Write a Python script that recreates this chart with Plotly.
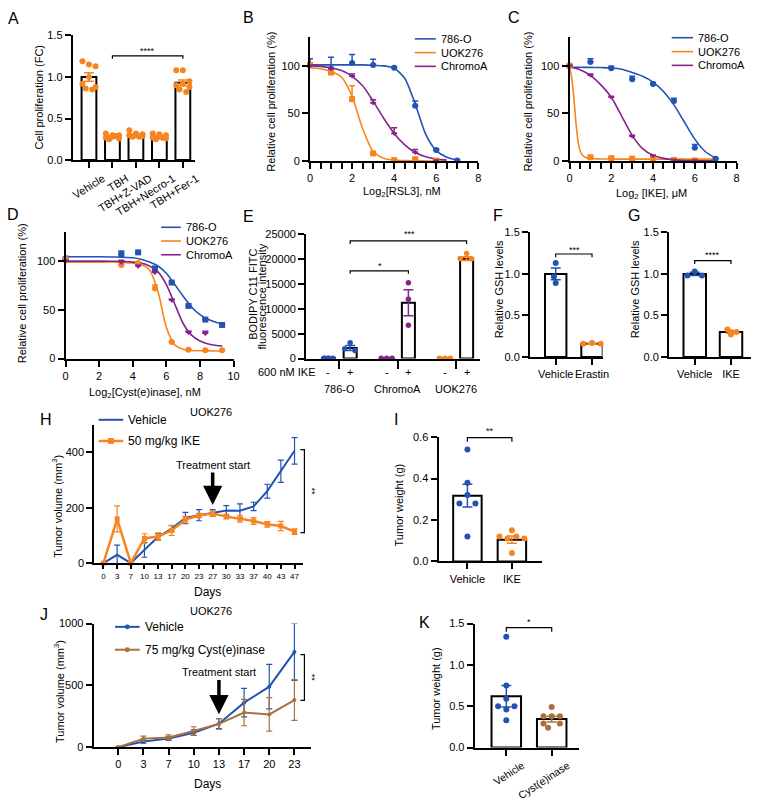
import plotly.graph_objects as go

FONT = "Arial, 'Liberation Sans', Helvetica, sans-serif"
BLUE = "#2253b3"
ORANGE = "#f7851f"
PURPLE = "#86228c"
BROWN = "#a8713b"

# ---------------- data ----------------
# A
A_CATS = ["Vehicle", "TBH", "TBH+Z-VAD", "TBH+Necro-1", "TBH+Fer-1"]
A_MEAN = [1.00, 0.28, 0.30, 0.28, 0.93]
A_SEM = [0.05, 0.012, 0.012, 0.012, 0.035]
A_PTS = [
    [1.19, 1.15, 1.13, 1.00, 0.92, 0.88, 0.86, 0.85],
    [0.32, 0.30, 0.30, 0.28, 0.27, 0.26, 0.25, 0.29],
    [0.36, 0.32, 0.31, 0.30, 0.30, 0.29, 0.28, 0.28],
    [0.32, 0.31, 0.30, 0.28, 0.27, 0.26, 0.25, 0.27],
    [1.08, 1.08, 0.95, 0.92, 0.90, 0.88, 0.85, 0.82],
]

# B  (Log2[RSL3], nM)
B_X = [0, 1, 2, 3, 4, 5, 6, 7]
B_786 = [101, 97, 103, 101, 98, 58, 11.5, 0.5]
B_786_ERR = [6.5, 12, 9, 6, 1, 5, 1.5, 0.3]
B_UOK = [101, 93, 65, 8, 1, 2, 0.5]
B_UOK_ERR = [1, 2, 14, 1, 0.5, 0.5, 0.3]
B_CHR = [100, 97, 89, 61, 29, 9, 0.5]
B_CHR_ERR = [1, 1, 2.5, 3.5, 6, 3, 0.3]
B_CX = [0, 0.5, 1, 1.5, 2, 2.5, 3, 3.5, 4, 4.5, 5, 5.5, 6, 6.5, 7]
B_786_FIT = [101, 101, 101, 101, 101, 101, 100.5, 100, 97.5, 87, 60, 28, 11, 4, 1]
B_UOK_FIT = [98, 97, 94, 88, 68, 34, 10, 3, 1, 0.4, 0.2, 0.1, 0]
B_CHR_FIT = [100, 99.5, 98, 95, 89, 79, 63, 45, 29, 17, 9, 4.5, 2, 1]

# C  (Log2 [IKE], uM)
C_X = [0, 1, 2, 3, 4, 5, 6, 7]
C_786 = [100.5, 104, 97.5, 86, 81, 63, 14, 2.5]
C_786_ERR = [1, 3.5, 2, 3, 1.5, 3, 3.5, 0.5]
C_UOK = [100, 4, 3, 2.5, 2.5, 1.2, 0.7]
C_UOK_ERR = [0.5, 0.5, 0.5, 0.5, 0.5, 0.3, 0.3]
C_CHR = [100, 90, 67, 26, 5.5, 1, 0.5]
C_CHR_ERR = [0.5, 1.5, 1, 1, 0.5, 0.3, 0.3]
C_CX = [0, 0.5, 1, 1.5, 2, 2.5, 3, 3.5, 4, 4.5, 5, 5.5, 6, 6.5, 7]
C_786_FIT = [98.5, 98.5, 98.4, 98.2, 97.8, 96.5, 93, 89, 83, 73, 59, 41, 23, 10, 3]
C_CHR_FIT = [99, 96, 90, 80, 67, 47, 27, 13, 6, 2.8, 1.2, 0.6, 0.4, 0.3, 0.3]
C_UOK_CX = [0, 0.1, 0.2, 0.3, 0.4, 0.5, 0.6, 0.8, 1, 1.5, 2, 3, 4, 5, 6, 7]
C_UOK_FIT = [99, 88, 68, 42, 22, 11, 6.5, 3.5, 2.6, 2.2, 2, 2, 2, 2, 2, 2]

# D  (Log2[Cyst(e)inase], nM)
D_X = [0, 3.32, 4.32, 5.32, 6.32, 7.32, 8.32, 9.32]
D_786 = [102, 107, 109, 92.5, 78, 54, 40, 34.5]
D_786_ERR = [2.5, 3.5, 0.5, 1.5, 0.5, 0.5, 0.5, 0.5]
D_UOK = [102, 96, 98, 72, 17, 9, 8.5, 8.5]
D_UOK_ERR = [3.5, 0.5, 0.5, 3.5, 0.5, 0.3, 0.3, 0.3]
D_CHR = [100, 99, 95, 88.5, 60, 27, 26]
D_CHR_ERR = [0.5, 2, 0.5, 1, 0.5, 1, 2]
D_CX = [0, 1, 2, 3, 4, 4.5, 5, 5.5, 6, 6.5, 7, 7.5, 8, 8.5, 9, 9.32]
D_786_FIT = [104.5, 104.5, 104.5, 104.3, 103.5, 102, 99, 95, 87.5, 76, 64, 53, 45, 40, 37, 35.5]
D_UOK_FIT = [99, 99, 99, 99, 98, 96.5, 91, 69, 32, 14, 9.5, 8.3, 8, 7.9, 7.8, 7.8]
D_CHR_FIT = [100, 100, 100, 99.8, 99, 98, 95, 89, 76, 56, 36, 24, 18, 15, 13.5, 13]

# E
E_GROUPS = ["786-O", "ChromoA", "UOK276"]
E_IKE = ["-", "+"]
E_MEAN = [100, 2100, 50, 11200, 50, 20050]
E_SEM = [20, 500, 20, 2600, 20, 400]
E_PTS = [[120, 100, 80], [3150, 1950, 1600], [60, 50, 40],
         [15200, 11900, 6700], [40, 50, 60], [20100, 21100, 20000]]

# F
F_CATS = ["Vehicle", "Erastin"]
F_MEAN = [1.00, 0.16]
F_SEM = [0.07, 0.006]
F_PTS = [[1.13, 0.97, 0.89], [0.16, 0.17, 0.16]]

# G
G_CATS = ["Vehicle", "IKE"]
G_MEAN = [1.00, 0.30]
G_SEM = [0.02, 0.015]
G_PTS = [[1.03, 0.98, 0.98], [0.33, 0.30, 0.30, 0.27]]

# H
H_DAYS = [0, 3, 7, 10, 13, 17, 20, 23, 27, 30, 33, 37, 40, 43, 47]
H_VEH = [0, 30, 0, 48, 95, 125, 163, 173, 181, 190, 189, 205, 260, 332, 406]
H_VEH_ERR = [0, 35, 0, 27, 12, 10, 20, 20, 12, 18, 25, 15, 25, 40, 48]
H_IKE = [0, 160, 0, 89, 96, 118, 157, 172, 179, 168, 160, 152, 140, 134, 114]
H_IKE_ERR = [0, 47, 0, 17, 13, 18, 12, 8, 10, 8, 12, 12, 10, 17, 10]
H_START_DAY = 27

# I
I_CATS = ["Vehicle", "IKE"]
I_MEAN = [0.317, 0.105]
I_SEM = [0.055, 0.018]
I_PTS = [[0.54, 0.38, 0.32, 0.28, 0.28, 0.12], [0.15, 0.12, 0.11, 0.12, 0.11, 0.04]]

# J
J_DAYS = [0, 3, 7, 10, 13, 17, 20, 23]
J_VEH = [0, 45, 69, 117, 190, 360, 489, 770]
J_VEH_ERR = [0, 12, 15, 22, 40, 115, 180, 230]
J_CYS = [0, 69, 79, 130, 188, 280, 265, 381]
J_CYS_ERR = [0, 20, 20, 35, 43, 107, 135, 165]
J_START_DAY = 13

# K
K_CATS = ["Vehicle", "Cyst(e)inase"]
K_MEAN = [0.62, 0.345]
K_SEM = [0.13, 0.035]
K_PTS = [[1.34, 0.75, 0.59, 0.50, 0.50, 0.46, 0.33], [0.49, 0.38, 0.38, 0.38, 0.29, 0.29, 0.24]]

# ---------------- layout helpers ----------------
W, H = 763, 801


def PX(x):
    return x / W


def PY(y):
    return 1 - y / H


fig = go.Figure()
shapes = []
annotations = []
layout = {}

AX = dict(showline=True, linecolor="black", linewidth=2, ticks="outside", ticklen=6,
          tickwidth=2, tickcolor="black", showgrid=False, zeroline=False,
          tickfont=dict(family=FONT, size=11, color="black"), fixedrange=True,
          layer="above traces")


def axes(n, x0, x1, ybot, ytop, xr, yr, xkw=None, ykw=None):
    s = "" if n == 1 else str(n)
    xa = dict(AX)
    xa.update(domain=[PX(x0), PX(x1)], range=xr, anchor="y" + s)
    ya = dict(AX)
    ya.update(domain=[PY(ybot), PY(ytop)], range=yr, anchor="x" + s)
    if xkw:
        xa.update(xkw)
    if ykw:
        ya.update(ykw)
    layout["xaxis" + s] = xa
    layout["yaxis" + s] = ya
    return "x" + s, "y" + s


def T(x, y, s, size=11, xanchor="center", angle=0, yanchor="middle"):
    annotations.append(dict(x=PX(x), y=PY(y), xref="paper", yref="paper", text=s,
                            showarrow=False, font=dict(family=FONT, size=size, color="black"),
                            xanchor=xanchor, yanchor=yanchor, textangle=angle))


def bar_group(xa, ya, xpos, mean, sem, color, width, pts, jit, msize=6):
    fig.add_trace(go.Bar(x=[xpos], y=[mean], width=width,
                         marker=dict(color="white", line=dict(color="black", width=2)),
                         error_y=dict(type="data", array=[sem], color=color, thickness=1.5, width=5),
                         xaxis=xa, yaxis=ya))
    fig.add_trace(go.Scatter(x=[xpos + j for j in jit[:len(pts)]], y=pts, mode="markers",
                             marker=dict(color=color, size=msize), cliponaxis=False,
                             xaxis=xa, yaxis=ya))


def curve(xa, ya, cx, cy, color):
    fig.add_trace(go.Scatter(x=cx[:len(cy)], y=cy, mode="lines",
                             line=dict(color=color, width=1.6, shape="spline", smoothing=0.7),
                             xaxis=xa, yaxis=ya))


def points(xa, ya, x, y, err, color, symbol, size=6):
    fig.add_trace(go.Scatter(x=x[:len(y)], y=y, mode="markers",
                             marker=dict(color=color, symbol=symbol, size=size),
                             error_y=dict(type="data", symmetric=False, array=err,
                                          arrayminus=[0] * len(err), color=color,
                                          thickness=1.5, width=3),
                             cliponaxis=False, xaxis=xa, yaxis=ya))


def bracket(xref, yref, x0, x1, y, drop):
    shapes.append(dict(type="path", xref=xref, yref=yref,
                       path=f"M {x0},{y - drop} L {x0},{y} L {x1},{y} L {x1},{y - drop}",
                       line=dict(color="black", width=1.2)))


def vbracket(yref, xpx, y0, y1):
    xa = PX(xpx)
    xb = PX(xpx - 4)
    shapes.append(dict(type="path", xref="paper", yref=yref,
                       path=f"M {xb},{y0} L {xa},{y0} L {xa},{y1} L {xb},{y1}",
                       line=dict(color="black", width=1.2)))


def legend_key(x0, x1, y, color, width=2, marker=None, text="", size=11):
    shapes.append(dict(type="line", xref="paper", yref="paper", x0=PX(x0), x1=PX(x1),
                       y0=PY(y), y1=PY(y), line=dict(color=color, width=width)))
    cx = (x0 + x1) / 2
    if marker == "square":
        shapes.append(dict(type="rect", xref="paper", yref="paper", x0=PX(cx - 3), x1=PX(cx + 3),
                           y0=PY(y + 3), y1=PY(y - 3), fillcolor=color, line=dict(width=0)))
    elif marker == "circle":
        shapes.append(dict(type="circle", xref="paper", yref="paper", x0=PX(cx - 2.5), x1=PX(cx + 2.5),
                           y0=PY(y + 2.5), y1=PY(y - 2.5), fillcolor=color, line=dict(width=0)))
    T(x1 + 3, y, text, size=size, xanchor="left")


def start_arrow(xa, ya, xidx, yval, text_dy):
    annotations.append(dict(x=xidx, y=yval, xref=xa, yref=ya, ax=0, ay=-text_dy,
                            text="Treatment start", showarrow=True, standoff=0,
                            font=dict(family=FONT, size=11, color="black"),
                            arrowhead=2, arrowsize=1.1, arrowwidth=3.5, arrowcolor="black"))


JIT8 = [-0.28, 0.0, 0.28, 0.0, -0.28, 0.28, -0.14, 0.14]
COLS_A = [ORANGE] * 5

# ---------------- Panel A ----------------
xa, ya = axes(1, 70.7, 194, 157, 30, [-0.686, 4.505], [0, 1.5],
              xkw=dict(tickvals=list(range(5)), ticktext=A_CATS, tickangle=-32,
                       ticklabelshift=14),
              ykw=dict(tickvals=[0, 0.5, 1.0, 1.5], tickformat=".1f"))
for i in range(5):
    bar_group(xa, ya, i, A_MEAN[i], A_SEM[i], COLS_A[i], 0.63, A_PTS[i], JIT8, msize=6)
bracket(xa, ya, 1, 4, 1.255, 0.035)
T(146, 45.5, "****", size=9)
T(3, 13, "A", size=16, xanchor="left")
T(36.7, 93, "Cell proliferation (FC)", angle=-90)

# ---------------- Panel B ----------------
MINOR = dict(dtick=0.5, ticks="outside", ticklen=6, tickwidth=1.5, tickcolor="black")
xa, ya = axes(2, 310.7, 481, 158, 31.9, [0, 8], [0, 130],
              xkw=dict(dtick=2, tick0=0, minor=MINOR),
              ykw=dict(tickvals=[0, 50, 100]))
curve(xa, ya, B_CX, B_786_FIT, BLUE)
curve(xa, ya, B_CX, B_UOK_FIT, ORANGE)
curve(xa, ya, B_CX, B_CHR_FIT, PURPLE)
points(xa, ya, B_X, B_786, B_786_ERR, BLUE, "circle")
points(xa, ya, B_X, B_UOK, B_UOK_ERR, ORANGE, "square")
points(xa, ya, B_X, B_CHR, B_CHR_ERR, PURPLE, "triangle-down", size=5)
T(241, 12, "B", size=16, xanchor="left")
T(271.7, 97, "Relative cell proliferation (%)", angle=-90)
T(404, 190, "Log<sub>2</sub>[RSL3], nM")
legend_key(416.7, 438, 33.5, BLUE, 1.6, text="786-O")
legend_key(416.7, 438, 47.5, ORANGE, 1.6, text="UOK276")
legend_key(416.7, 438, 61.5, PURPLE, 1.6, text="ChromoA")

# ---------------- Panel C ----------------
xa, ya = axes(3, 573.3, 742.3, 158, 31.9, [0, 8], [0, 130],
              xkw=dict(dtick=2, tick0=0, minor=MINOR),
              ykw=dict(tickvals=[0, 50, 100]))
curve(xa, ya, C_CX, C_786_FIT, BLUE)
curve(xa, ya, C_UOK_CX, C_UOK_FIT, ORANGE)
curve(xa, ya, C_CX, C_CHR_FIT, PURPLE)
points(xa, ya, C_X, C_786, C_786_ERR, BLUE, "circle")
points(xa, ya, C_X, C_UOK, C_UOK_ERR, ORANGE, "square")
points(xa, ya, C_X, C_CHR, C_CHR_ERR, PURPLE, "triangle-down", size=5)
T(509, 12, "C", size=16, xanchor="left")
T(531.7, 97, "Relative cell proliferation (%)", angle=-90)
T(656.7, 191.5, "Log<sub>2</sub> [IKE], μM")
legend_key(676.7, 698.3, 32.3, BLUE, 1.6, text="786-O")
legend_key(676.7, 698.3, 46.5, ORANGE, 1.6, text="UOK276")
legend_key(676.7, 698.3, 60.5, PURPLE, 1.6, text="ChromoA")

# ---------------- Panel D ----------------
xa, ya = axes(4, 63.3, 233.3, 359.3, 230.2, [0, 10], [0, 130],
              xkw=dict(dtick=2, tick0=0),
              ykw=dict(tickvals=[0, 50, 100]))
curve(xa, ya, D_CX, D_786_FIT, BLUE)
curve(xa, ya, D_CX, D_UOK_FIT, ORANGE)
curve(xa, ya, D_CX, D_CHR_FIT, PURPLE)
points(xa, ya, D_X, D_786, D_786_ERR, BLUE, "square")
points(xa, ya, D_X, D_UOK, D_UOK_ERR, ORANGE, "circle")
points(xa, ya, D_X, D_CHR, D_CHR_ERR, PURPLE, "triangle-down", size=6)
T(2, 212, "D", size=16, xanchor="left")
T(19, 293, "Relative cell proliferation (%)", angle=-90)
T(144, 394, "Log<sub>2</sub>[Cyst(e)inase], nM")
legend_key(160, 180, 225.5, BLUE, 1.6, text="786-O")
legend_key(160, 180, 239.5, ORANGE, 1.6, text="UOK276")
legend_key(160, 180, 253.5, PURPLE, 1.6, text="ChromoA")

# ---------------- Panel E ----------------
GROUP_STEP = 2.68
E_POS = [g * GROUP_STEP + c for g in range(3) for c in range(2)]
E_COLS = [BLUE, BLUE, PURPLE, PURPLE, ORANGE, ORANGE]
E_JIT = [[-0.2, 0, 0.2], [0, -0.25, 0.22], [-0.25, 0, 0.25],
         [0, 0, 0], [-0.25, 0, 0.25], [-0.3, 0, 0.23]]
xa, ya = axes(5, 306.7, 483, 359.3, 232.3, [-1.03, 6.99], [0, 25000],
              xkw=dict(tickvals=[g * GROUP_STEP + 0.5 for g in range(3)],
                       showticklabels=False, ticklen=8),
              ykw=dict(dtick=5000, tickformat="d"))
for i in range(6):
    bar_group(xa, ya, E_POS[i], E_MEAN[i], E_SEM[i], E_COLS[i], 0.6, E_PTS[i], E_JIT[i], msize=5.5)
bracket(xa, ya, E_POS[1], E_POS[5], 23600, 600)
bracket(xa, ya, E_POS[1], E_POS[3], 17600, 600)
T(411.3, 232.5, "***", size=9)
T(381.3, 265, "*", size=9)
for i in range(6):
    T(329.3 + E_POS[i] * 22, 373.3, E_IKE[i % 2], size=11)
for g in range(3):
    T(329.3 + (g * GROUP_STEP + 0.5) * 22, 390, E_GROUPS[g], size=11)
T(317.5, 373.3, "600 nM IKE", size=11, xanchor="right")
T(241, 215, "E", size=16, xanchor="left")
T(253.3, 294, "BODIPY C11 FITC", angle=-90)
T(261.7, 296.5, "fluorescence intensity", angle=-90)

# ---------------- Panel F ----------------
xa, ya = axes(6, 533.3, 606.7, 357.7, 230.7, [-0.708, 1.29], [0, 1.5],
              xkw=dict(tickvals=[0, 1], ticktext=F_CATS, tickangle=0),
              ykw=dict(tickvals=[0, 0.5, 1.0, 1.5], tickformat=".1f"))
F_JIT = [[0, -0.05, 0], [-0.24, 0, 0.24]]
for i in range(2):
    bar_group(xa, ya, i, F_MEAN[i], F_SEM[i], [BLUE, ORANGE][i], 0.59, F_PTS[i], F_JIT[i])
bracket(xa, ya, 0, 1, 1.24, 0.04)
T(578, 249, "***", size=9)
T(494, 213.3, "F", size=16, xanchor="left")
T(501.7, 289, "Relative GSH levels", angle=-90)

# ---------------- Panel G ----------------
xa, ya = axes(7, 674, 756.7, 357.7, 230.7, [-0.708, 1.545], [0, 1.5],
              xkw=dict(tickvals=[0, 1], ticktext=G_CATS, tickangle=0),
              ykw=dict(tickvals=[0, 0.5, 1.0, 1.5], tickformat=".1f"))
G_JIT = [[0, -0.2, 0.2], [-0.1, 0, 0.15, 0]]
for i in range(2):
    bar_group(xa, ya, i, G_MEAN[i], G_SEM[i], [BLUE, ORANGE][i], 0.62, G_PTS[i], G_JIT[i])
bracket(xa, ya, 0, 1, 1.16, 0.04)
T(718.3, 253.3, "****", size=9)
T(630, 213.3, "G", size=16, xanchor="left")
T(639.3, 289, "Relative GSH levels", angle=-90)

# ---------------- Panel H ----------------
H_CATS = [str(d) for d in H_DAYS]
xa, ya = axes(8, 92.3, 303.3, 567.7, 426.8, [-0.68, 14.6], [0, 500],
              xkw=dict(type="category", tickfont=dict(family=FONT, size=8, color="black"),
                       ticklen=4, tickwidth=1.5),
              ykw=dict(tickvals=[0, 200, 400]))
fig.add_trace(go.Scatter(x=H_CATS, y=H_VEH, mode="lines", line=dict(color=BLUE, width=2),
                         error_y=dict(type="data", array=H_VEH_ERR, color=BLUE, thickness=1.2, width=3),
                         xaxis=xa, yaxis=ya))
fig.add_trace(go.Scatter(x=H_CATS, y=H_IKE, mode="lines+markers", line=dict(color=ORANGE, width=2.5),
                         marker=dict(symbol="square", size=5, color=ORANGE),
                         error_y=dict(type="data", array=H_IKE_ERR, color=ORANGE, thickness=1.2, width=3),
                         cliponaxis=False, xaxis=xa, yaxis=ya))
start_arrow(xa, ya, H_DAYS.index(H_START_DAY), 210, 40)
T(210, 413.3, "UOK276", size=11)
vbracket(ya, 305, 410, 110)
T(313, 495, "**", size=9, angle=90)
legend_key(96.7, 121.7, 421.7, BLUE, 2, text="Vehicle", size=12)
legend_key(96.7, 121.7, 443.3, ORANGE, 2.5, marker="square", text="50 mg/kg IKE", size=12)
T(35, 421.7, "H", size=16, xanchor="left")
T(55, 510, "Tumor volume (mm<sup>3</sup>)", angle=-90)
T(207.3, 597, "Days", size=12)

# ---------------- Panel I ----------------
xa, ya = axes(9, 440.7, 545, 566, 439.3, [-0.65, 1.667], [0, 0.6],
              xkw=dict(tickvals=[0, 1], ticktext=I_CATS, tickangle=0),
              ykw=dict(tickvals=[0, 0.2, 0.4, 0.6], tickformat=".1f"))
I_JIT = [[0, 0, 0, -0.18, 0.18, 0], [0, -0.28, -0.1, 0.1, 0.28, 0]]
for i in range(2):
    bar_group(xa, ya, i, I_MEAN[i], I_SEM[i], [BLUE, ORANGE][i], 0.64, I_PTS[i], I_JIT[i])
bracket(xa, ya, 0, 1, 0.597, 0.02)
T(492.5, 433, "**", size=9)
T(394, 421.7, "I", size=16, xanchor="left")
T(401.7, 508, "Tumor weight (g)", angle=-90)

# ---------------- Panel J ----------------
J_CATS = [str(d) for d in J_DAYS]
xa, ya = axes(10, 91.7, 311.7, 755.3, 629.3, [-0.98, 7.66], [0, 1000],
              xkw=dict(type="category"),
              ykw=dict(tickvals=[0, 500, 1000]))
fig.add_trace(go.Scatter(x=J_CATS, y=J_VEH, mode="lines+markers", line=dict(color=BLUE, width=2),
                         marker=dict(size=4, color=BLUE),
                         error_y=dict(type="data", array=J_VEH_ERR, color=BLUE, thickness=1.2, width=3),
                         xaxis=xa, yaxis=ya))
fig.add_trace(go.Scatter(x=J_CATS, y=J_CYS, mode="lines+markers", line=dict(color=BROWN, width=2),
                         marker=dict(size=4, color=BROWN),
                         error_y=dict(type="data", array=J_CYS_ERR, color=BROWN, thickness=1.2, width=3),
                         xaxis=xa, yaxis=ya))
start_arrow(xa, ya, J_DAYS.index(J_START_DAY), 267, 41.7)
T(210, 616.7, "UOK276", size=11)
vbracket(ya, 305, 748, 378)
T(313, 685, "**", size=9, angle=90)
legend_key(113.3, 138.3, 632.7, BLUE, 2, marker="circle", text="Vehicle", size=12)
legend_key(113.3, 138.3, 656, BROWN, 2, marker="circle", text="75 mg/kg Cyst(e)inase", size=12)
T(35, 620, "J", size=16, xanchor="left")
T(56.7, 699, "Tumor volume (mm<sup>3</sup>)", angle=-90)
T(207.3, 792.5, "Days", size=12)

# ---------------- Panel K ----------------
xa, ya = axes(11, 477.3, 583.3, 755.7, 629.3, [-0.696, 1.61], [0, 1.5],
              xkw=dict(tickvals=[0, 1], ticktext=K_CATS, tickangle=-33, ticklabelshift=16,
                       tickfont=dict(family=FONT, size=10.5, color="black")),
              ykw=dict(tickvals=[0, 0.5, 1.0, 1.5], tickformat=".1f"))
K_JIT = [[0, 0, 0, -0.18, 0.18, 0, 0], [0, -0.18, 0, 0.18, -0.18, 0.18, -0.08]]
for i in range(2):
    bar_group(xa, ya, i, K_MEAN[i], K_SEM[i], [BLUE, BROWN][i], 0.65, K_PTS[i], K_JIT[i])
bracket(xa, ya, 0, 1, 1.45, 0.05)
T(532, 627.5, "*", size=9)
T(419, 628.3, "K", size=16, xanchor="left")
T(438.3, 696, "Tumor weight (g)", angle=-90)

layout.update(width=W, height=H, margin=dict(l=0, r=0, t=0, b=0), paper_bgcolor="white",
              plot_bgcolor="rgba(0,0,0,0)", showlegend=False, barmode="overlay",
              font=dict(family=FONT, size=11, color="black"),
              shapes=shapes, annotations=annotations)
fig.update_layout(**layout)
fig.write_html("out.html", config={"displayModeBar": False},
               post_script="document.body.style.margin='0';document.body.style.overflow='hidden';")
